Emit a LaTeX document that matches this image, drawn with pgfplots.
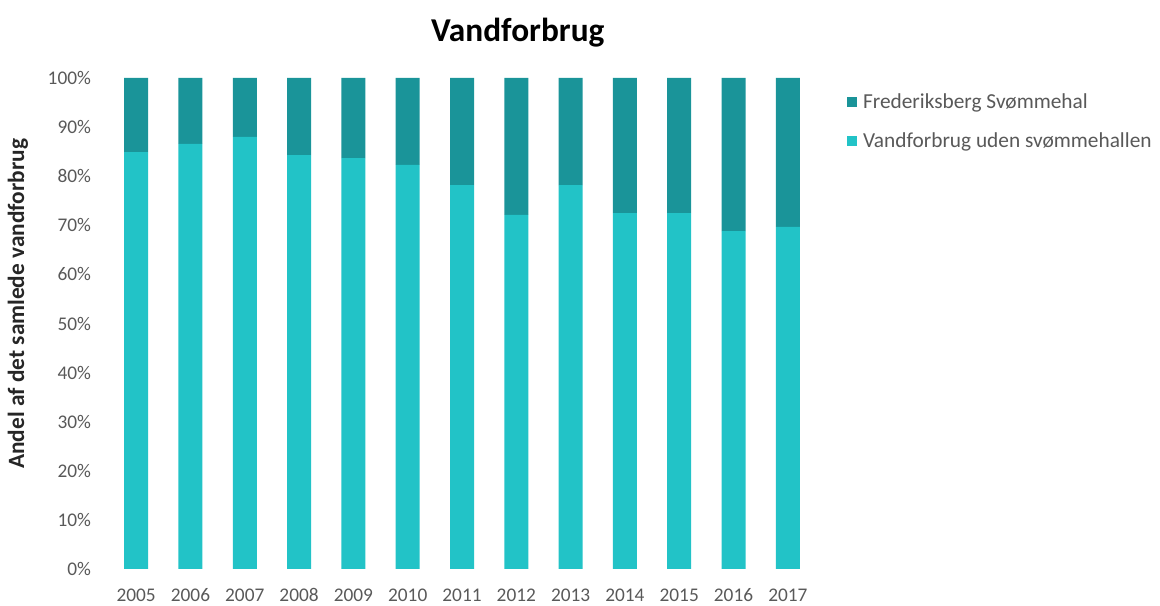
\documentclass[border=0pt]{standalone}
\usepackage{pgfplots}
\pgfplotsset{compat=1.18}
\usepackage{fontspec}
\setmainfont{Carlito}
\definecolor{darkteal}{HTML}{1A9499}
\definecolor{lightteal}{HTML}{22C3C7}
\definecolor{ticktext}{HTML}{595959}
\begin{document}
\begin{tikzpicture}
\path[use as bounding box] (-81.75pt,-27.75pt) rectangle (788.25pt,426.75pt);
\begin{axis}[
    at={(0,0)}, anchor=south west,
    scale only axis,
    width=529.5pt, height=368.25pt,
    ybar stacked,
    bar width=18pt,
    xmin=-0.5, xmax=12.5,
    ymin=0, ymax=100,
    xtick={0,...,12},
    xticklabels={2005,2006,2007,2008,2009,2010,2011,2012,2013,2014,2015,2016,2017},
    ytick={0,10,...,100},
    yticklabels={0\%,10\%,20\%,30\%,40\%,50\%,60\%,70\%,80\%,90\%,100\%},
    major tick length=0pt,
    axis line style={draw=none},
    tick label style={font=\fontsize{14.5}{17}\selectfont, text=ticktext},
    yticklabel style={xshift=-10pt},
    xticklabel style={text height=7pt, text depth=0pt, anchor=north, yshift=-13.5pt},
    title={Vandforbrug},
    title style={font=\fontsize{25}{30}\selectfont\bfseries, at={(axis description cs:0.579,1.077)}, anchor=center},
    ylabel={Andel af det samlede vandforbrug},
    ylabel style={font=\fontsize{17.5}{20}\selectfont\bfseries, text=black!85, at={(axis description cs:-0.129,0.54)}, anchor=center, rotate=0},
    legend style={draw=none, at={(axis description cs:1.045,0.975)}, anchor=north west,
        font=\fontsize{16}{19}\selectfont, text=ticktext, row sep=13pt, inner sep=0pt},
    legend cell align=left,
    reverse legend,
    legend image code/.code={\fill[#1] (0pt,-3.75pt) rectangle (7.5pt,3.75pt); \path (10pt,0pt);},
]
\addplot[fill=lightteal, draw=none] coordinates {
 (0,84.9) (1,86.6) (2,88.0) (3,84.3) (4,83.7) (5,82.3) (6,78.2) (7,72.1) (8,78.2) (9,72.5) (10,72.5) (11,68.8) (12,69.7)
};
\addlegendentry{Vandforbrug uden svømmehallen}
\addplot[fill=darkteal, draw=none] coordinates {
 (0,15.1) (1,13.4) (2,12.0) (3,15.7) (4,16.3) (5,17.7) (6,21.8) (7,27.9) (8,21.8) (9,27.5) (10,27.5) (11,31.2) (12,30.3)
};
\addlegendentry{Frederiksberg Svømmehal}
\end{axis}
\end{tikzpicture}
\end{document}
